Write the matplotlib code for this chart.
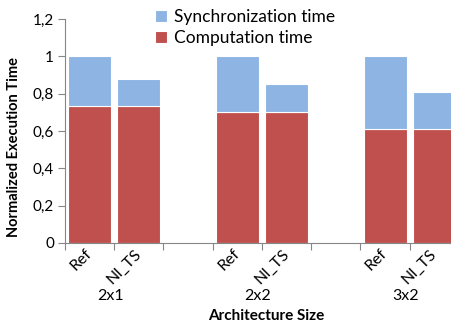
import matplotlib
matplotlib.use("Agg")
import matplotlib.pyplot as plt
import numpy as np

plt.rcParams['font.family'] = ['Lato', 'DejaVu Sans']

# Data
groups = ["2x1", "2x2", "3x2"]
variants = ["Ref", "NI_TS"]
computation = [0.735, 0.735, 0.70, 0.70, 0.61, 0.61]
total = [1.0, 0.88, 1.0, 0.85, 1.0, 0.81]
synchronization = [t - c for t, c in zip(total, computation)]

red = "#C0504D"
blue = "#8EB4E3"
grey = "#868686"

fig = plt.figure(figsize=(4.52, 3.28), dpi=100)
ax = fig.add_axes([65 / 452, 1 - 243 / 328, 394 / 452, 224 / 328])

# Slot positions: two bars per group followed by an empty slot
positions = []
for g in range(len(groups)):
    for v in range(len(variants)):
        positions.append(g * 3 + v)
positions = np.array(positions, dtype=float)

bw = 0.875
ax.bar(positions, computation, width=bw, color=red, edgecolor="white",
       linewidth=0.8, label="Computation time", zorder=2)
ax.bar(positions, synchronization, bottom=computation, width=bw, color=blue,
       edgecolor="white", linewidth=0.8, label="Synchronization time", zorder=2)

ax.set_xlim(-0.5, 7.5)
ax.set_ylim(0, 1.2)
yt = np.arange(0, 1.21, 0.2)
ax.set_yticks(yt)
ax.set_yticklabels(["0" if v == 0 else ("1" if abs(v - 1) < 1e-9 else f"{v:.1f}".replace(".", ","))
                    for v in yt], fontsize=11)

# Boundary ticks between slots, category labels at slot centres
ax.set_xticks(np.arange(-0.5, 8.0, 1.0))
ax.set_xticklabels([])
ax.set_xticks(positions, minor=True)
ax.set_xticklabels(variants * len(groups), minor=True, rotation=45,
                   ha="right", va="center", rotation_mode="anchor", fontsize=11.5)
ax.tick_params(axis="x", which="minor", length=0, pad=6)
ax.tick_params(axis="x", which="major", length=5, color=grey, direction="out")
ax.tick_params(axis="y", length=5, color=grey, direction="out", pad=3)

for s in ["top", "right"]:
    ax.spines[s].set_visible(False)
ax.spines["left"].set_color(grey)
ax.spines["bottom"].set_color(grey)

for g, name in enumerate(groups):
    ax.text(g * 3 + 0.5 - 0.08, -0.283, name, transform=ax.transData,
            ha="center", va="center", fontsize=11.5)

fig.text(266 / 452, 1 - 316 / 328, "Architecture Size", ha="center", va="center",
         fontsize=11, fontweight="bold")
ax.set_ylabel("Normalized Execution Time", fontsize=10.5, fontweight="bold")
ax.yaxis.set_label_coords(-44 / 394, 0.43)

handles, labels = ax.get_legend_handles_labels()
fig.legend(handles[::-1], labels[::-1], loc="upper left",
           bbox_to_anchor=(148 / 452, 1 - 2 / 328), frameon=False,
           fontsize=12.5, handlelength=0.72, handleheight=0.72,
           handletextpad=0.4, labelspacing=0.3, borderaxespad=0)

fig.savefig("out.png", dpi=100)
